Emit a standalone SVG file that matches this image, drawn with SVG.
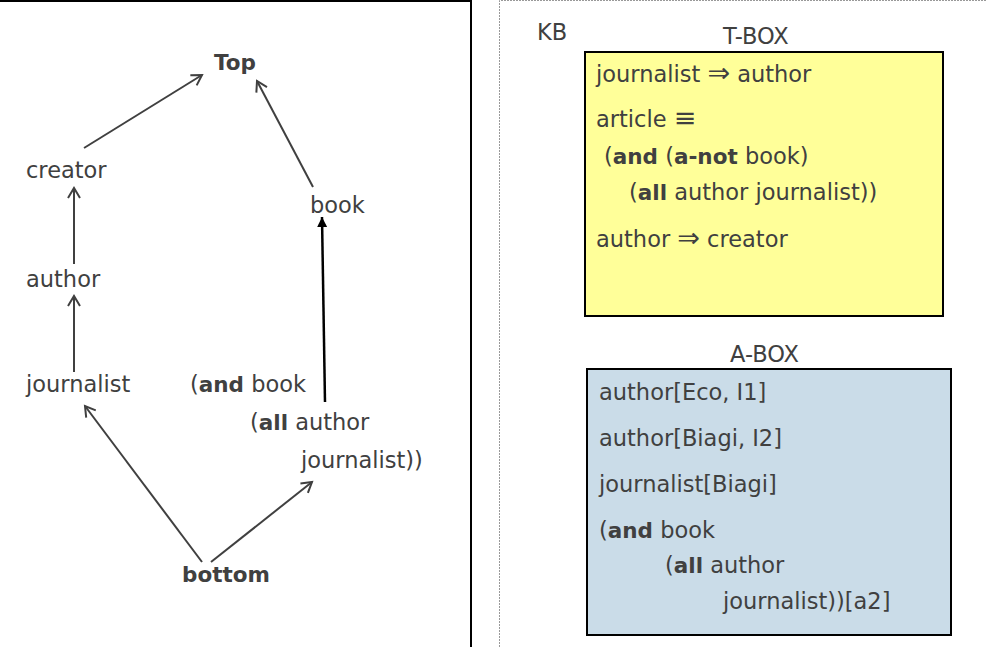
<svg xmlns="http://www.w3.org/2000/svg" width="986" height="647" viewBox="0 0 986 647">
<style>
text{font-family:"DejaVu Sans","Liberation Sans",sans-serif;font-size:22.5px;fill:#404040}
.b{font-weight:bold;font-size:21.5px}
.s{font-size:27px}
.c{stroke:#404040;stroke-width:2;fill:none}
</style>
<defs>
<marker id="open" markerWidth="14" markerHeight="14" refX="11" refY="7" orient="auto" markerUnits="userSpaceOnUse">
<path d="M1,1 L11,7 L1,13" fill="none" stroke="#404040" stroke-width="2"/>
</marker>
<marker id="solid" markerWidth="12" markerHeight="12" refX="10" refY="6" orient="auto" markerUnits="userSpaceOnUse">
<path d="M0,1 L10,6 L0,11 Z" fill="#000"/>
</marker>
</defs>
<rect width="986" height="647" fill="#fff"/>
<g id="frame">
<path d="M0,1 H471 V647" fill="none" stroke="#000" stroke-width="2"/>
<path d="M499.5,647 V0.5 H986" fill="none" stroke="#999" stroke-width="1" stroke-dasharray="2,1"/>
</g>
<g id="connectors">
<line class="c" x1="84" y1="148" x2="202" y2="75" marker-end="url(#open)"/>
<line class="c" x1="313" y1="187" x2="257" y2="81" marker-end="url(#open)"/>
<line class="c" x1="74" y1="264" x2="74" y2="188" marker-end="url(#open)"/>
<line class="c" x1="74" y1="372" x2="74" y2="296" marker-end="url(#open)"/>
<line class="c" x1="202" y1="562" x2="85" y2="406" marker-end="url(#open)"/>
<line class="c" x1="211" y1="562" x2="312" y2="482" marker-end="url(#open)"/>
<line x1="325" y1="402" x2="322" y2="217" stroke="#000" stroke-width="2.5" marker-end="url(#solid)"/>
</g>
<g id="n-top"><text class="b" x="214" y="70">Top</text></g>
<g id="n-creator"><text x="26" y="178">creator</text></g>
<g id="n-book"><text x="310" y="213">book</text></g>
<g id="n-author"><text x="26" y="287">author</text></g>
<g id="n-journalist"><text x="26" y="392">journalist</text></g>
<g id="n-andbook">
<text x="190" y="392">(<tspan class="b">and</tspan> book</text>
<text x="250" y="430">(<tspan class="b">all</tspan> author</text>
<text x="301" y="468">journalist))</text>
</g>
<g id="n-bottom"><text class="b" x="182" y="582">bottom</text></g>
<g id="kb"><text x="537" y="40">KB</text></g>
<g id="tbox">
<text x="723" y="44">T-BOX</text>
<rect x="585" y="52" width="358" height="264" fill="#FFFF99" stroke="#000" stroke-width="2"/>
<text x="596" y="82">journalist <tspan class="s">⇒</tspan> author</text>
<text x="596" y="127">article <tspan class="s">≡</tspan></text>
<text x="604" y="164">(<tspan class="b">and</tspan> (<tspan class="b">a-not</tspan> book)</text>
<text x="629" y="200">(<tspan class="b">all</tspan> author journalist))</text>
<text x="596" y="247">author <tspan class="s">⇒</tspan> creator</text>
</g>
<g id="abox">
<text x="730" y="362">A-BOX</text>
<rect x="587" y="369" width="364" height="266" fill="#CADCE8" stroke="#000" stroke-width="2"/>
<text x="599" y="400">author[Eco, I1]</text>
<text x="599" y="446">author[Biagi, I2]</text>
<text x="599" y="492">journalist[Biagi]</text>
<text x="599" y="538">(<tspan class="b">and</tspan> book</text>
<text x="665" y="573">(<tspan class="b">all</tspan> author</text>
<text x="723" y="609">journalist))[a2]</text>
</g>
</svg>
